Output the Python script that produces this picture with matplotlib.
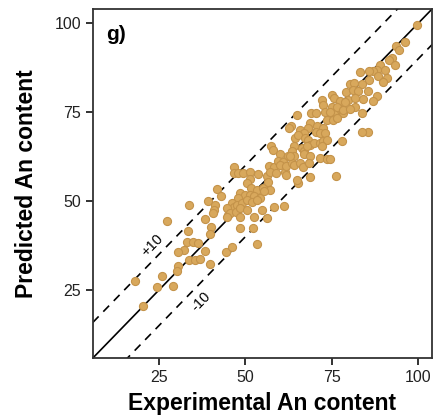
import matplotlib
matplotlib.use('Agg')
import matplotlib.pyplot as plt
import numpy as np

plt.rcParams['font.family'] = ['Liberation Sans', 'DejaVu Sans']

# experimental vs predicted An content
experimental = [
    41.9, 42.9, 39.2, 33.7, 41.2, 40.9, 40.6, 45.0, 27.5, 38.5,
    33.6, 40.0, 39.8, 33.3, 35.0, 36.3, 32.3, 30.6, 38.3, 44.6,
    33.7, 35.4, 37.1, 39.8, 30.6, 30.4, 18.2, 26.0, 24.6, 29.2,
    20.6,
    57.5, 58.0, 60.2, 62.3, 56.8, 58.4, 59.4, 60.9, 61.6, 61.9,
    46.7, 46.9, 47.9, 49.4, 51.3, 53.6, 56.3, 57.3, 51.5, 50.6,
    51.7, 53.4, 55.3, 56.5, 57.3, 48.6, 50.1, 51.3, 52.5, 54.2,
    55.5, 47.9, 46.2, 46.7, 47.6, 49.1, 50.4, 52.0, 53.4, 44.8,
    45.5, 47.5, 48.6, 50.6, 52.5, 54.8, 48.6, 52.3, 58.2, 44.8,
    48.6, 56.3,
    53.4, 46.2, 61.3, 76.1, 68.8, 65.4, 64.9, 58.8,
    75.0, 75.7, 77.4, 79.2, 79.6, 72.1, 72.6, 75.0, 75.7, 77.6,
    76.6, 78.2, 69.0, 70.5, 73.1, 74.6, 65.0, 68.8, 70.7, 72.6,
    73.6, 75.3, 76.4, 68.3, 65.9, 66.9, 70.5, 71.5, 73.1, 63.2,
    64.5, 65.4, 67.3, 68.3, 68.8, 70.0, 71.5, 72.6, 73.6, 64.2,
    63.5, 66.4, 66.9, 67.8, 72.1, 64.0, 66.9, 68.8, 71.5, 73.6,
    74.6, 77.9, 60.2, 61.9, 63.5, 64.0, 65.9, 66.6,
    99.7, 96.2, 93.6, 94.5, 92.3, 91.6, 93.3, 89.0, 90.4, 88.0,
    87.0, 85.9, 83.2, 88.5, 91.1, 89.9, 85.9, 83.7, 80.3, 81.5,
    81.1, 82.7, 85.6, 88.0, 87.0, 84.1, 81.8, 78.9, 81.8, 78.4,
    80.3,
    85.6, 83.7, 62.8, 68.5, 63.0, 83.7,
]
predicted = [
    53.4, 51.5, 50.2, 48.9, 48.9, 47.5, 46.8, 46.1, 44.4, 44.9,
    41.7, 42.8, 40.7, 38.6, 38.5, 38.2, 36.3, 35.8, 36.1, 35.8,
    33.5, 33.6, 33.8, 32.5, 31.8, 30.4, 27.6, 28.9, 25.9, 26.1,
    20.7,
    65.4, 64.4, 63.3, 62.7, 59.9, 59.7, 61.2, 60.9, 58.3, 57.4,
    59.5, 57.9, 57.9, 57.9, 58.3, 57.6, 57.1, 58.1, 56.2, 55.1,
    53.7, 53.2, 53.7, 55.3, 53.2, 52.2, 51.9, 51.8, 51.5, 50.8,
    53.0, 50.8, 49.4, 48.5, 48.9, 49.4, 50.4, 49.9, 50.4, 48.1,
    46.8, 47.1, 48.1, 47.5, 45.6, 47.5, 42.6, 42.6, 48.5, 45.6,
    45.6, 45.2,
    37.9, 37.2, 48.7, 57.1, 56.7, 55.2, 56.0, 57.9,
    79.9, 79.0, 78.3, 80.6, 78.5, 78.5, 77.1, 76.6, 74.8, 75.6,
    76.6, 74.8, 74.8, 74.8, 75.0, 75.0, 74.3, 72.0, 71.1, 70.5,
    72.9, 72.9, 73.4, 70.5, 70.1, 69.1, 69.6, 69.1, 69.1, 71.1,
    67.8, 68.7, 67.8, 67.3, 65.8, 66.3, 66.5, 66.8, 67.3, 65.4,
    64.2, 64.9, 64.0, 65.4, 65.4, 62.6, 63.3, 62.6, 62.1, 61.8,
    61.8, 66.8, 60.2, 59.9, 60.7, 60.2, 60.7, 59.6,
    99.6, 94.8, 93.6, 92.6, 90.3, 89.6, 88.4, 88.4, 86.8, 87.0,
    86.5, 86.5, 86.3, 85.2, 84.7, 83.5, 84.2, 83.0, 83.0, 83.2,
    81.3, 80.9, 81.1, 79.6, 78.3, 78.7, 79.0, 77.8, 76.6, 75.7,
    75.9,
    69.6, 69.6, 70.5, 60.7, 62.6, 74.8,
]

lims = (6, 104)
ticks = [25, 50, 75, 100]

fig = plt.figure(figsize=(4.4, 4.18), dpi=100)
ax = fig.add_axes([0.211, 0.1435, 0.771, 0.835])

# 1:1 line and +/-10 band
line = np.array(lims)
ax.plot(line, line, color='black', lw=1.2, zorder=1)
ax.plot(line, line + 10, color='black', lw=1.2, ls=(0, (5, 4)), zorder=1)
ax.plot(line, line - 10, color='black', lw=1.2, ls=(0, (5, 4)), zorder=1)

ax.scatter(experimental, predicted, s=34, color='#D8A85C', edgecolors='#C4934A',
           linewidths=0.8, zorder=3)

ax.text(23.2, 37.7, '+10', rotation=45.5, ha='center', va='center', fontsize=10.5)
ax.text(37.1, 21.7, '-10', rotation=45.5, ha='center', va='center', fontsize=10.5)
ax.text(0.04, 0.955, 'g)', transform=ax.transAxes, fontsize=15, fontweight='bold',
        ha='left', va='top')

ax.set_xlim(lims)
ax.set_ylim(lims)
ax.set_xticks(ticks)
ax.set_yticks(ticks)
ax.tick_params(labelsize=11.5, length=5, width=1.3, direction='out', colors='#222222')
for sp in ax.spines.values():
    sp.set_linewidth(1.3)
    sp.set_color('#333333')

ax.set_xlabel('Experimental An content', fontsize=16.5, fontweight='bold', labelpad=5)
ax.set_ylabel('Predicted An content', fontsize=16.5, fontweight='bold', labelpad=12)

fig.savefig('out.png', dpi=100)
